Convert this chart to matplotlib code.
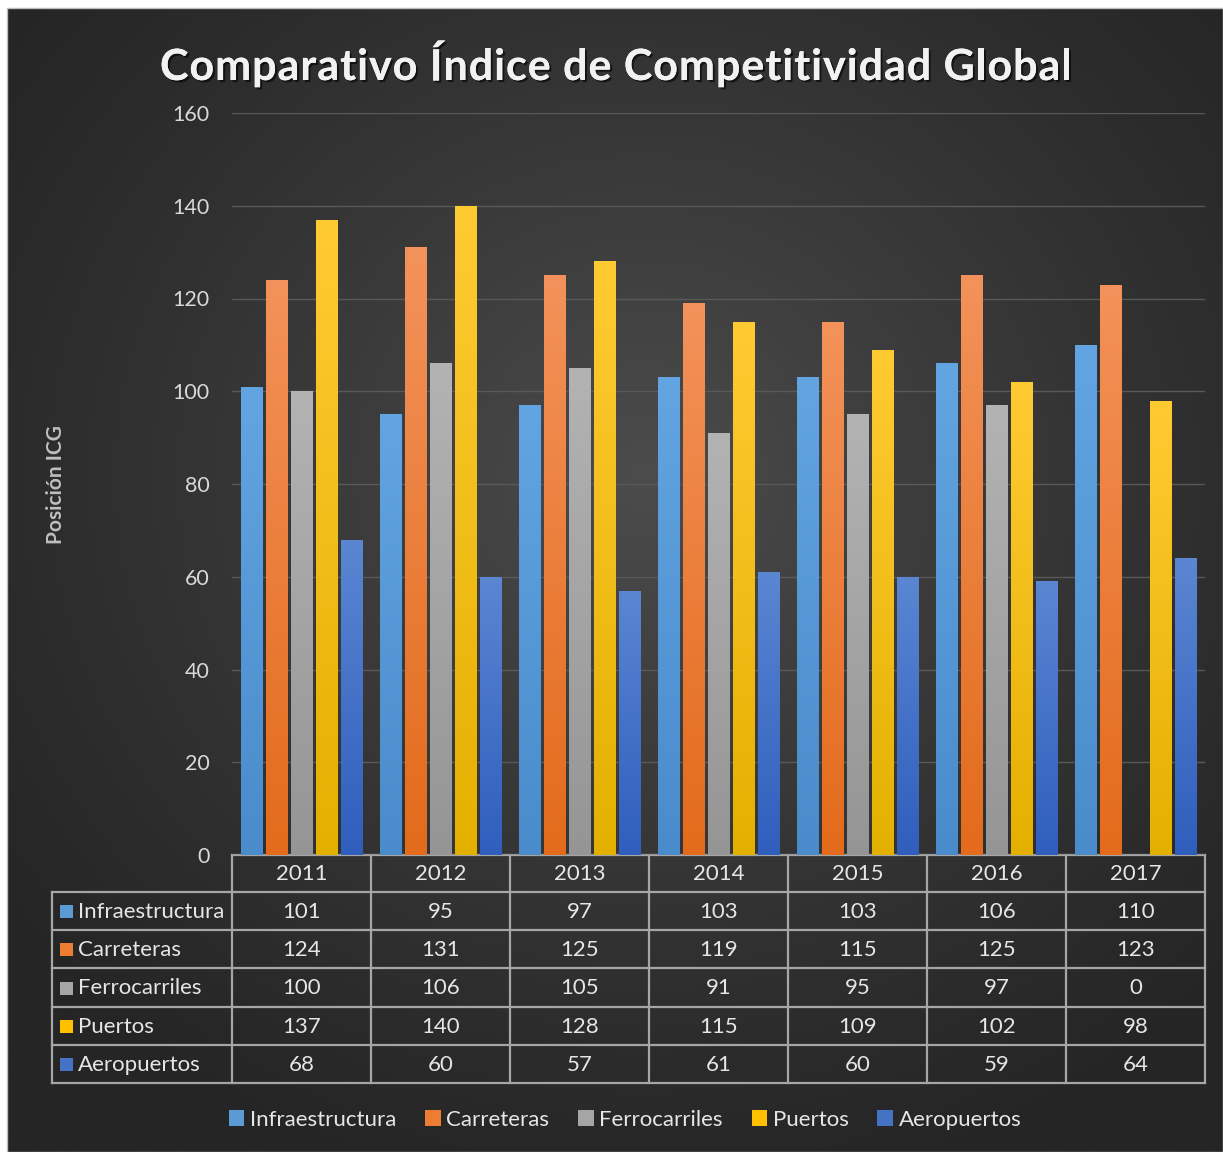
import numpy as np
import matplotlib
matplotlib.use("Agg")
import matplotlib.pyplot as plt
import matplotlib.patheffects as pe
from matplotlib.patches import Patch, Rectangle
from matplotlib.colors import LinearSegmentedColormap
from matplotlib.textpath import TextPath
from matplotlib.font_manager import FontProperties

# ---------------- data ----------------
years = ["2011", "2012", "2013", "2014", "2015", "2016", "2017"]
series_names = ["Infraestructura", "Carreteras", "Ferrocarriles", "Puertos", "Aeropuertos"]
infraestructura = [101, 95, 97, 103, 103, 106, 110]
carreteras = [124, 131, 125, 119, 115, 125, 123]
ferrocarriles = [100, 106, 105, 91, 95, 97, 0]
puertos = [137, 140, 128, 115, 109, 102, 98]
aeropuertos = [68, 60, 57, 61, 60, 59, 64]
yticks = [0, 20, 40, 60, 80, 100, 120, 140, 160]
title = "Comparativo Índice de Competitividad Global"

series_values = [infraestructura, carreteras, ferrocarriles, puertos, aeropuertos]
# (top colour, bottom colour, legend colour)
series_colors = [
    ("#62a5e2", "#4a8bcb", "#5b9bd5"),
    ("#f3925a", "#e36b1b", "#ed7d31"),
    ("#b3b3b3", "#959595", "#a5a5a5"),
    ("#ffcb32", "#e4b000", "#ffc000"),
    ("#5a86d2", "#2f5ebd", "#4472c4"),
]

W, H = 1223, 1152
FONT = ["Lato", "DejaVu Sans"]
plt.rcParams["font.family"] = FONT

fig = plt.figure(figsize=(W / 100, H / 100), dpi=100, facecolor="white")

# ---------------- background / overlay axes (pixel coords) ----------------
bg = fig.add_axes([0, 0, 1, 1], zorder=0)
bg.set_xlim(0, W)
bg.set_ylim(H, 0)
bg.axis("off")
yy, xx = np.mgrid[0:H:2, 0:W:2]
cx, cy = 640, 470
r = np.sqrt(((xx - cx) / 820.0) ** 2 + ((yy - cy) / 760.0) ** 2)
val = np.clip(1 - r, 0, 1)
light = 0x4c / 255
dark = 0x25 / 255
gray = dark + (light - dark) * val ** 1.2
img = np.dstack([gray, gray, gray])
bg.imshow(img, extent=(7, W, H, 8), aspect="auto", interpolation="bilinear", zorder=0)
bg.add_patch(Rectangle((7, 8), W - 7, H - 8, fill=False, edgecolor="#bdbdbd", lw=1.0, zorder=1))

# ---------------- chart axes ----------------
L, R, T, B = 232, 1205, 113, 855
ax = fig.add_axes([L / W, 1 - B / H, (R - L) / W, (B - T) / H], zorder=2)
ax.set_facecolor("none")
ax.set_xlim(-0.5, len(years) - 0.5)
ax.set_ylim(0, 160)
ax.set_yticks(yticks)
ax.set_yticklabels([str(v) for v in yticks])
ax.tick_params(axis="y", length=0, pad=16, labelsize=15.5, labelcolor="#d9d9d9")
ax.tick_params(axis="x", length=0, labelbottom=False)
ax.set_xticks([])
for s in ax.spines.values():
    s.set_visible(False)
ax.yaxis.grid(True, color="#595959", lw=1.0)
ax.set_axisbelow(True)

x = np.arange(len(years))
slot = 0.18
bw = 0.152
grad = np.linspace(1, 0, 256).reshape(-1, 1)
for i, (vals, cols) in enumerate(zip(series_values, series_colors)):
    offs = (i - 2) * slot
    bars = ax.bar(x + offs, vals, width=bw, color=cols[2], zorder=3)
    cmap = LinearSegmentedColormap.from_list("g%d" % i, [cols[1], cols[0]])
    for b in bars:
        h = b.get_height()
        if h <= 0:
            continue
        x0 = b.get_x()
        im = ax.imshow(grad, extent=(x0, x0 + b.get_width(), 0, h), cmap=cmap,
                       aspect="auto", origin="upper", zorder=4, vmin=0, vmax=1)
        im.set_clip_path(b)

ax.set_xlim(-0.5, len(years) - 0.5)
ax.set_ylim(0, 160)

# ---------------- title (letter-spaced) & y label ----------------
t_fs = 31.0
t_px = t_fs * 100 / 72.0
fp = FontProperties(family="Lato", weight="bold")
widths = [TextPath((0, 0), ch, size=t_px, prop=fp).get_extents().width if ch != " " else None
          for ch in title]
adv = []
for ch in title:
    tp = TextPath((0, 0), ch + "|", size=t_px, prop=fp)
    tb = TextPath((0, 0), "|", size=t_px, prop=fp)
    adv.append(tp.get_extents().x1 - tb.get_extents().x1 + 0.0)
target_left, target_right = 160, 1072
base_w = sum(adv)
spacing = (target_right - target_left - base_w) / (len(title) - 1)
xpos = target_left
shadow = [pe.withSimplePatchShadow(offset=(1.5, -1.5), shadow_rgbFace="black", alpha=0.6), pe.Normal()]
for ch, a in zip(title, adv):
    if ch != " ":
        bg.text(xpos, 67, ch, ha="left", va="center", fontsize=t_fs, fontweight="bold",
                color="#f2f2f2", family=FONT, path_effects=shadow, zorder=6)
    xpos += a + spacing

fig.text(56 / W, 1 - 485 / H, "Posición ICG", rotation=90, ha="center", va="center",
         fontsize=15, fontweight="bold", color="#bfbfbf")

# ---------------- data table ----------------
line_c = "#a6a6a6"
lw = 1.6
col_w = (R - L) / len(years)
hdr_top, hdr_bot = 855, 892
row_h = (1083 - 892) / len(series_names)
tab_left = 52
tab_bot = hdr_bot + row_h * len(series_names)
txt_c = "#e6e6e6"
fs_tab = 16

# header
bg.plot([L, R], [hdr_top, hdr_top], color=line_c, lw=lw, zorder=5)
for j in range(len(years) + 1):
    xx_ = L + j * col_w
    bg.plot([xx_, xx_], [hdr_top, tab_bot], color=line_c, lw=lw, zorder=5)
for j, yr in enumerate(years):
    bg.text(L + (j + 0.5) * col_w, (hdr_top + hdr_bot) / 2 + 1, yr, ha="center", va="center",
            fontsize=fs_tab, color=txt_c, zorder=6)
# rows
for k in range(len(series_names) + 1):
    yk = hdr_bot + k * row_h
    bg.plot([tab_left, R], [yk, yk], color=line_c, lw=lw, zorder=5)
bg.plot([tab_left, tab_left], [hdr_bot, tab_bot], color=line_c, lw=lw, zorder=5)
for k, (name, vals, cols) in enumerate(zip(series_names, series_values, series_colors)):
    yc = hdr_bot + (k + 0.5) * row_h
    bg.add_patch(Rectangle((60, yc - 6), 13, 13, facecolor=cols[2], edgecolor="none", zorder=6))
    bg.text(78, yc + 1, name, ha="left", va="center", fontsize=fs_tab, color=txt_c, zorder=6)
    for j, v in enumerate(vals):
        bg.text(L + (j + 0.5) * col_w, yc + 1, str(v), ha="center", va="center",
                fontsize=fs_tab, color=txt_c, zorder=6)

# ---------------- legend ----------------
handles = [Patch(facecolor=c[2], edgecolor="none") for c in series_colors]
leg = fig.legend(handles, series_names, loc="center", bbox_to_anchor=(625 / W, 1 - 1120 / H),
                 ncol=5, frameon=False, fontsize=16, handlelength=0.7, handleheight=0.7,
                 handletextpad=0.25, columnspacing=1.3, labelcolor=txt_c)

fig.savefig("out.png", dpi=100, facecolor="white")
